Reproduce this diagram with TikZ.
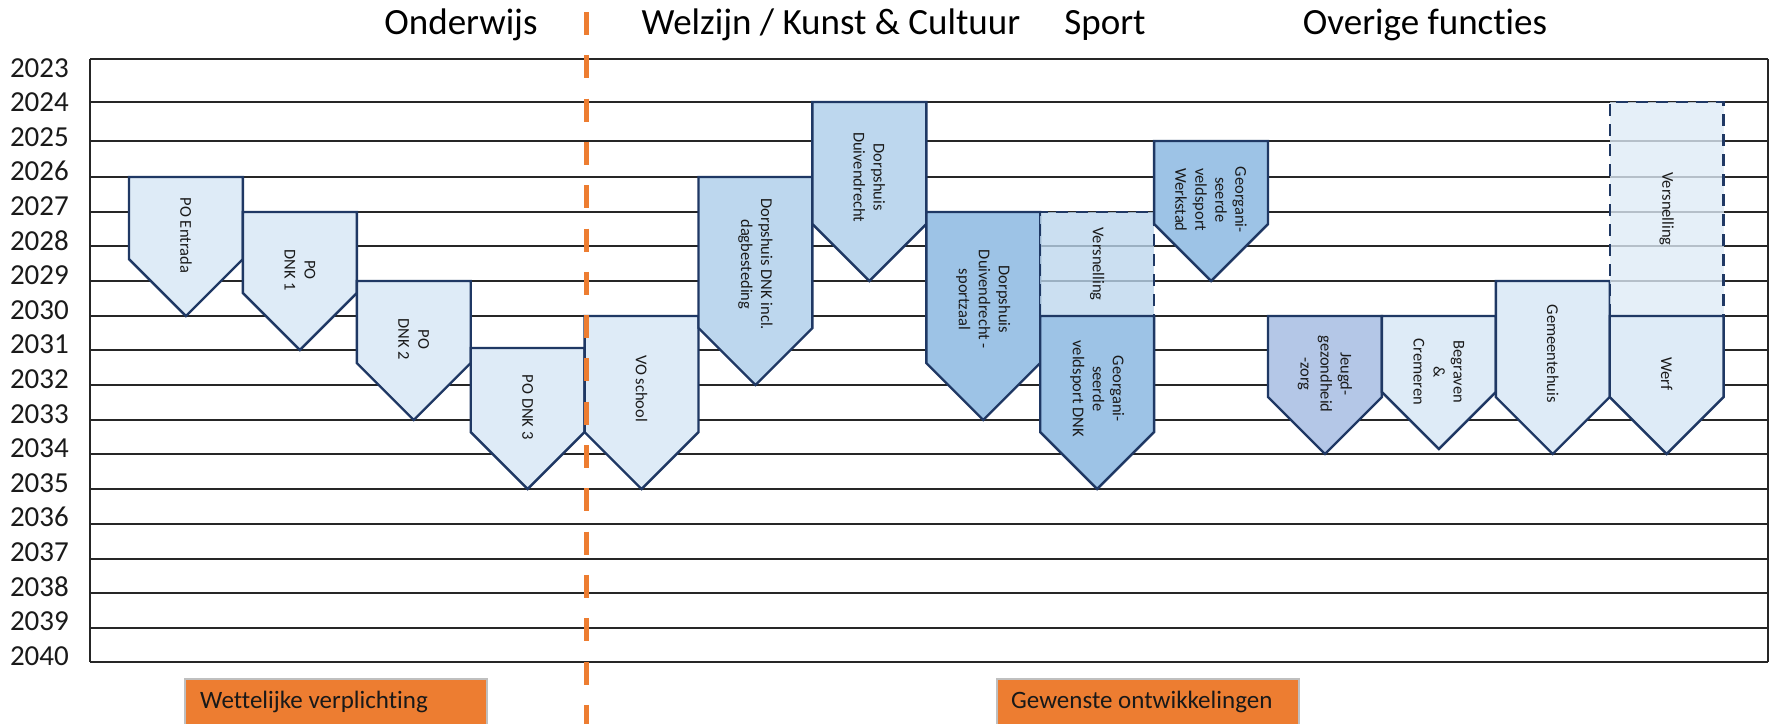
\documentclass[tikz,border=0pt]{standalone}
\usepackage{fontspec}
\setmainfont{Carlito}[Ligatures=NoCommon]
\definecolor{navy}{HTML}{1F3864}
\definecolor{gridc}{HTML}{262626}
\definecolor{fLight}{HTML}{DEEBF7}
\definecolor{fMid}{HTML}{BDD7EE}
\definecolor{fDark}{HTML}{9DC3E6}
\definecolor{fJeugd}{HTML}{B4C7E7}
\definecolor{oranje}{HTML}{ED7D31}
\definecolor{txt}{HTML}{1A1A1A}
\newcommand\pentshape[6]{%
  \pgfmathsetmacro\pxl{129+113.9*#2}%
  \pgfmathsetmacro\pxr{\pxl+113.9}%
  \pgfmathsetmacro\pxc{\pxl+56.95}%
  \pgfmathsetmacro\pys{#4-56.95}%
  \pgfmathsetmacro\pyt{#3+0.42*(#4-#3)}%
  \draw[shapeborder,fill=#5] (\pxl,#3) -- (\pxr,#3) -- (\pxr,\pys) -- (\pxc,#4) -- (\pxl,\pys) -- cycle;
  \node[shapetext] (#1) at (\pxc,\pyt) {#6};
}
\newcommand\speedbox[6]{%
  \pgfmathsetmacro\pxl{129+113.9*#2}%
  \pgfmathsetmacro\pxr{\pxl+113.9}%
  \pgfmathsetmacro\pxc{\pxl+56.95}%
  \pgfmathsetmacro\pyt{(#3+#4)/2}%
  \fill[fill=#5,fill opacity=0.78] (\pxl,#3) rectangle (\pxr,#4);
  \draw[speedborder] (\pxl,#4) -- (\pxl,#3) -- (\pxr,#3) -- (\pxr,#4+4);
  \node[shapetext] (#1) at (\pxc,\pyt) {#6};
}
\begin{document}
\begin{tikzpicture}[x=1pt,y=-1pt,
  gridline/.style={draw=gridc,line width=2.2pt},
  shapeborder/.style={draw=navy,line width=2.4pt,line join=miter},
  speedborder/.style={draw=navy,line width=2.4pt,dash pattern=on 12pt off 8pt},
  shapetext/.style={rotate=-90,align=center,inner sep=0pt,text=txt,font=\fontsize{16.5}{20}\selectfont},
  yearlabel/.style={anchor=base east,inner sep=0pt,text=txt,font=\fontsize{29}{32}\selectfont},
  titlelabel/.style={anchor=base,inner sep=0pt,text=black,font=\fontsize{37}{42}\selectfont},
  legendbox/.style={fill=oranje,draw=gray!50,line width=1.5pt},
  legendtext/.style={anchor=base west,inner sep=0pt,text=black!90,font=\fontsize{25}{29}\selectfont},
  orangeline/.style={draw=oranje,line width=5pt,dash pattern=on 23pt off 20.3pt}]
\useasboundingbox (0,0) rectangle (1771,723);
\clip (0,0) rectangle (1771,723);
\fill[white] (0,0) rectangle (1771,723);
% titles
\node[titlelabel] (tOnd) at (461,34) {Onderwijs};
\node[titlelabel] (tWel) at (831,34) {Welzijn / Kunst \& Cultuur};
\node[titlelabel] (tSpo) at (1105,34) {Sport};
\node[titlelabel] (tOve) at (1425,34) {Overige functies};
% year labels
\foreach \yr [count=\k from 0] in {2023,...,2040}{
  \node[yearlabel] (y\yr) at (69,{77+34.6*\k}) {\yr};
}
% grid lines
\foreach \yy in {59,102,141,177,212,246,281,316,350,385,420,454,489,524,559,593,628,662}{
  \draw[gridline] (90,\yy) -- (1768,\yy);
}
\draw[gridline] (90,59) -- (90,662);
\draw[gridline] (1768,59) -- (1768,662);
% Onderwijs
\pentshape{poentrada}{0}{177}{316}{fLight}{PO Entrada}
\pentshape{podnk1}{1}{212}{350}{fLight}{PO\\DNK 1}
\pentshape{podnk2}{2}{281}{420}{fLight}{PO\\DNK 2}
\pentshape{podnk3}{3}{348}{489}{fLight}{PO DNK 3}
\pentshape{voschool}{4}{316}{489}{fLight}{VO school}
% Welzijn
\pentshape{dpdnk}{5}{177}{385}{fMid}{Dorpshuis DNK incl.\\dagbesteding}
\pentshape{dpduiv}{6}{102}{281}{fMid}{Dorpshuis\\Duivendrecht}
\pentshape{dpsport}{7}{212}{420}{fDark}{Dorpshuis\\Duivendrecht -\\sportzaal}
% Sport
\speedbox{versn1}{8}{212}{316}{fMid}{Versnelling}
\pentshape{georgdnk}{8}{316}{489}{fDark}{Georgani-\\seerde\\veldsport DNK}
\pentshape{georgwerk}{9}{141}{281}{fDark}{Georgani-\\seerde\\veldsport\\Werkstad}
% Overige
\pentshape{jeugd}{10}{316}{454}{fJeugd}{Jeugd-\\gezondheid\\-zorg}
\pentshape{begraven}{11}{316}{449}{fLight}{Begraven\\\&\\Cremeren}
\pentshape{gemeente}{12}{281}{454}{fLight}{Gemeentehuis}
\speedbox{versn2}{13}{102}{316}{fLight}{Versnelling}
\pentshape{werf}{13}{316}{454}{fLight}{Werf}
% orange divider
\coordinate (divtop) at (586,12);
\coordinate (divbot) at (586,740);
\draw[orangeline] (divtop) -- (divbot);
% legend boxes
\draw[legendbox] (185,679) rectangle (487,740);
\node[legendtext] (lWet) at (200,708) {Wettelijke verplichting};
\draw[legendbox] (997,679) rectangle (1299,740);
\node[legendtext] (lGew) at (1011,708) {Gewenste ontwikkelingen};
\end{tikzpicture}
\end{document}
